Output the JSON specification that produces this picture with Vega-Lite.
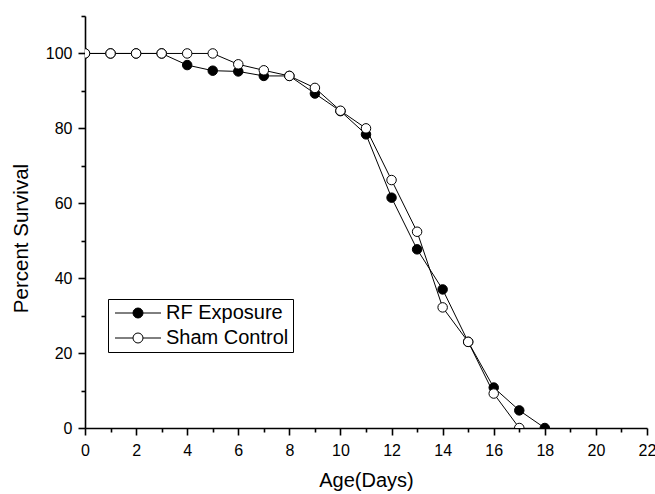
{
  "$schema": "https://vega.github.io/schema/vega-lite/v6.json",
  "autosize": {"type": "none"},
  "padding": {"left": 85, "top": 16, "right": 8, "bottom": 66},
  "width": 562,
  "height": 412,
  "background": "white",
  "config": {"view": {"stroke": null}, "font": "Liberation Sans"},
  "data": {"values": [
    {"day": 0, "pct": 100, "series": "RF Exposure"},
    {"day": 1, "pct": 100, "series": "RF Exposure"},
    {"day": 2, "pct": 100, "series": "RF Exposure"},
    {"day": 3, "pct": 100, "series": "RF Exposure"},
    {"day": 4, "pct": 96.9, "series": "RF Exposure"},
    {"day": 5, "pct": 95.4, "series": "RF Exposure"},
    {"day": 6, "pct": 95.2, "series": "RF Exposure"},
    {"day": 7, "pct": 94.0, "series": "RF Exposure"},
    {"day": 8, "pct": 94.0, "series": "RF Exposure"},
    {"day": 9, "pct": 89.3, "series": "RF Exposure"},
    {"day": 10, "pct": 84.6, "series": "RF Exposure"},
    {"day": 11, "pct": 78.4, "series": "RF Exposure"},
    {"day": 12, "pct": 61.5, "series": "RF Exposure"},
    {"day": 13, "pct": 47.7, "series": "RF Exposure"},
    {"day": 14, "pct": 37.0, "series": "RF Exposure"},
    {"day": 15, "pct": 23.0, "series": "RF Exposure"},
    {"day": 16, "pct": 10.8, "series": "RF Exposure"},
    {"day": 17, "pct": 4.7, "series": "RF Exposure"},
    {"day": 18, "pct": 0, "series": "RF Exposure"},
    {"day": 0, "pct": 100, "series": "Sham Control"},
    {"day": 1, "pct": 100, "series": "Sham Control"},
    {"day": 2, "pct": 100, "series": "Sham Control"},
    {"day": 3, "pct": 100, "series": "Sham Control"},
    {"day": 4, "pct": 100, "series": "Sham Control"},
    {"day": 5, "pct": 100, "series": "Sham Control"},
    {"day": 6, "pct": 97.1, "series": "Sham Control"},
    {"day": 7, "pct": 95.5, "series": "Sham Control"},
    {"day": 8, "pct": 94.0, "series": "Sham Control"},
    {"day": 9, "pct": 90.8, "series": "Sham Control"},
    {"day": 10, "pct": 84.7, "series": "Sham Control"},
    {"day": 11, "pct": 80.0, "series": "Sham Control"},
    {"day": 12, "pct": 66.2, "series": "Sham Control"},
    {"day": 13, "pct": 52.4, "series": "Sham Control"},
    {"day": 14, "pct": 32.2, "series": "Sham Control"},
    {"day": 15, "pct": 23.0, "series": "Sham Control"},
    {"day": 16, "pct": 9.2, "series": "Sham Control"},
    {"day": 17, "pct": 0, "series": "Sham Control"}
  ]},
  "encoding": {
    "x": {
      "field": "day", "type": "quantitative",
      "scale": {"domain": [0, 22], "nice": false, "zero": false},
      "axis": {
        "title": "Age(Days)",
        "values": [0,1,2,3,4,5,6,7,8,9,10,11,12,13,14,15,16,17,18,19,20,21,22],
        "labelExpr": "datum.value % 2 === 0 ? datum.label : ''",
        "grid": false,
        "domainColor": "black", "domainWidth": 1.6,
        "tickColor": "black", "tickWidth": 1.6,
        "tickSize": {"condition": {"test": "datum.value % 2 === 0", "value": 7}, "value": 4},
        "labelColor": "black", "labelFontSize": 16, "labelPadding": 7,
        "labelFlush": false, "labelOverlap": false,
        "titleColor": "black", "titleFontSize": 20, "titleFontWeight": "normal", "titlePadding": 12
      }
    },
    "y": {
      "field": "pct", "type": "quantitative",
      "scale": {"domain": [0, 110], "nice": false},
      "axis": {
        "title": "Percent Survival",
        "values": [0,10,20,30,40,50,60,70,80,90,100,110],
        "labelExpr": "datum.value % 20 === 0 && datum.value <= 100 ? datum.label : ''",
        "grid": false,
        "domainColor": "black", "domainWidth": 1.6,
        "tickColor": "black", "tickWidth": 1.6,
        "tickSize": {"condition": {"test": "datum.value % 20 === 0 && datum.value <= 100", "value": 7}, "value": 4},
        "labelColor": "black", "labelFontSize": 16, "labelPadding": 6,
        "labelFlush": false, "labelOverlap": false,
        "titleColor": "black", "titleFontSize": 20.5, "titleFontWeight": "normal", "titlePadding": 14,
        "titleY": 222
      }
    }
  },
  "layer": [
    {
      "mark": {"type": "line", "color": "black", "strokeWidth": 1, "clip": true},
      "encoding": {"detail": {"field": "series", "type": "nominal"}}
    },
    {
      "mark": {"type": "point", "shape": "circle", "filled": true, "size": 90, "stroke": "black", "strokeWidth": 1, "opacity": 1, "clip": true},
      "encoding": {
        "fill": {
          "field": "series", "type": "nominal",
          "scale": {"domain": ["RF Exposure", "Sham Control"], "range": ["black", "white"]},
          "legend": {
            "title": null,
            "orient": "none", "legendX": 23, "legendY": 283,
            "strokeColor": "black", "fillColor": "white",
            "padding": 4, "cornerRadius": 0,
            "symbolType": "M-1,0A1,1 0 1,1 1,0A1,1 0 1,1 -1,0Z M-4.6,0H-1 M1,0H4.6",
            "symbolSize": 100, "symbolStrokeColor": "black", "symbolStrokeWidth": 1,
            "symbolOffset": 16, "labelOffset": 18,
            "labelFontSize": 20, "labelColor": "black", "rowPadding": 5
          }
        }
      }
    }
  ]
}
